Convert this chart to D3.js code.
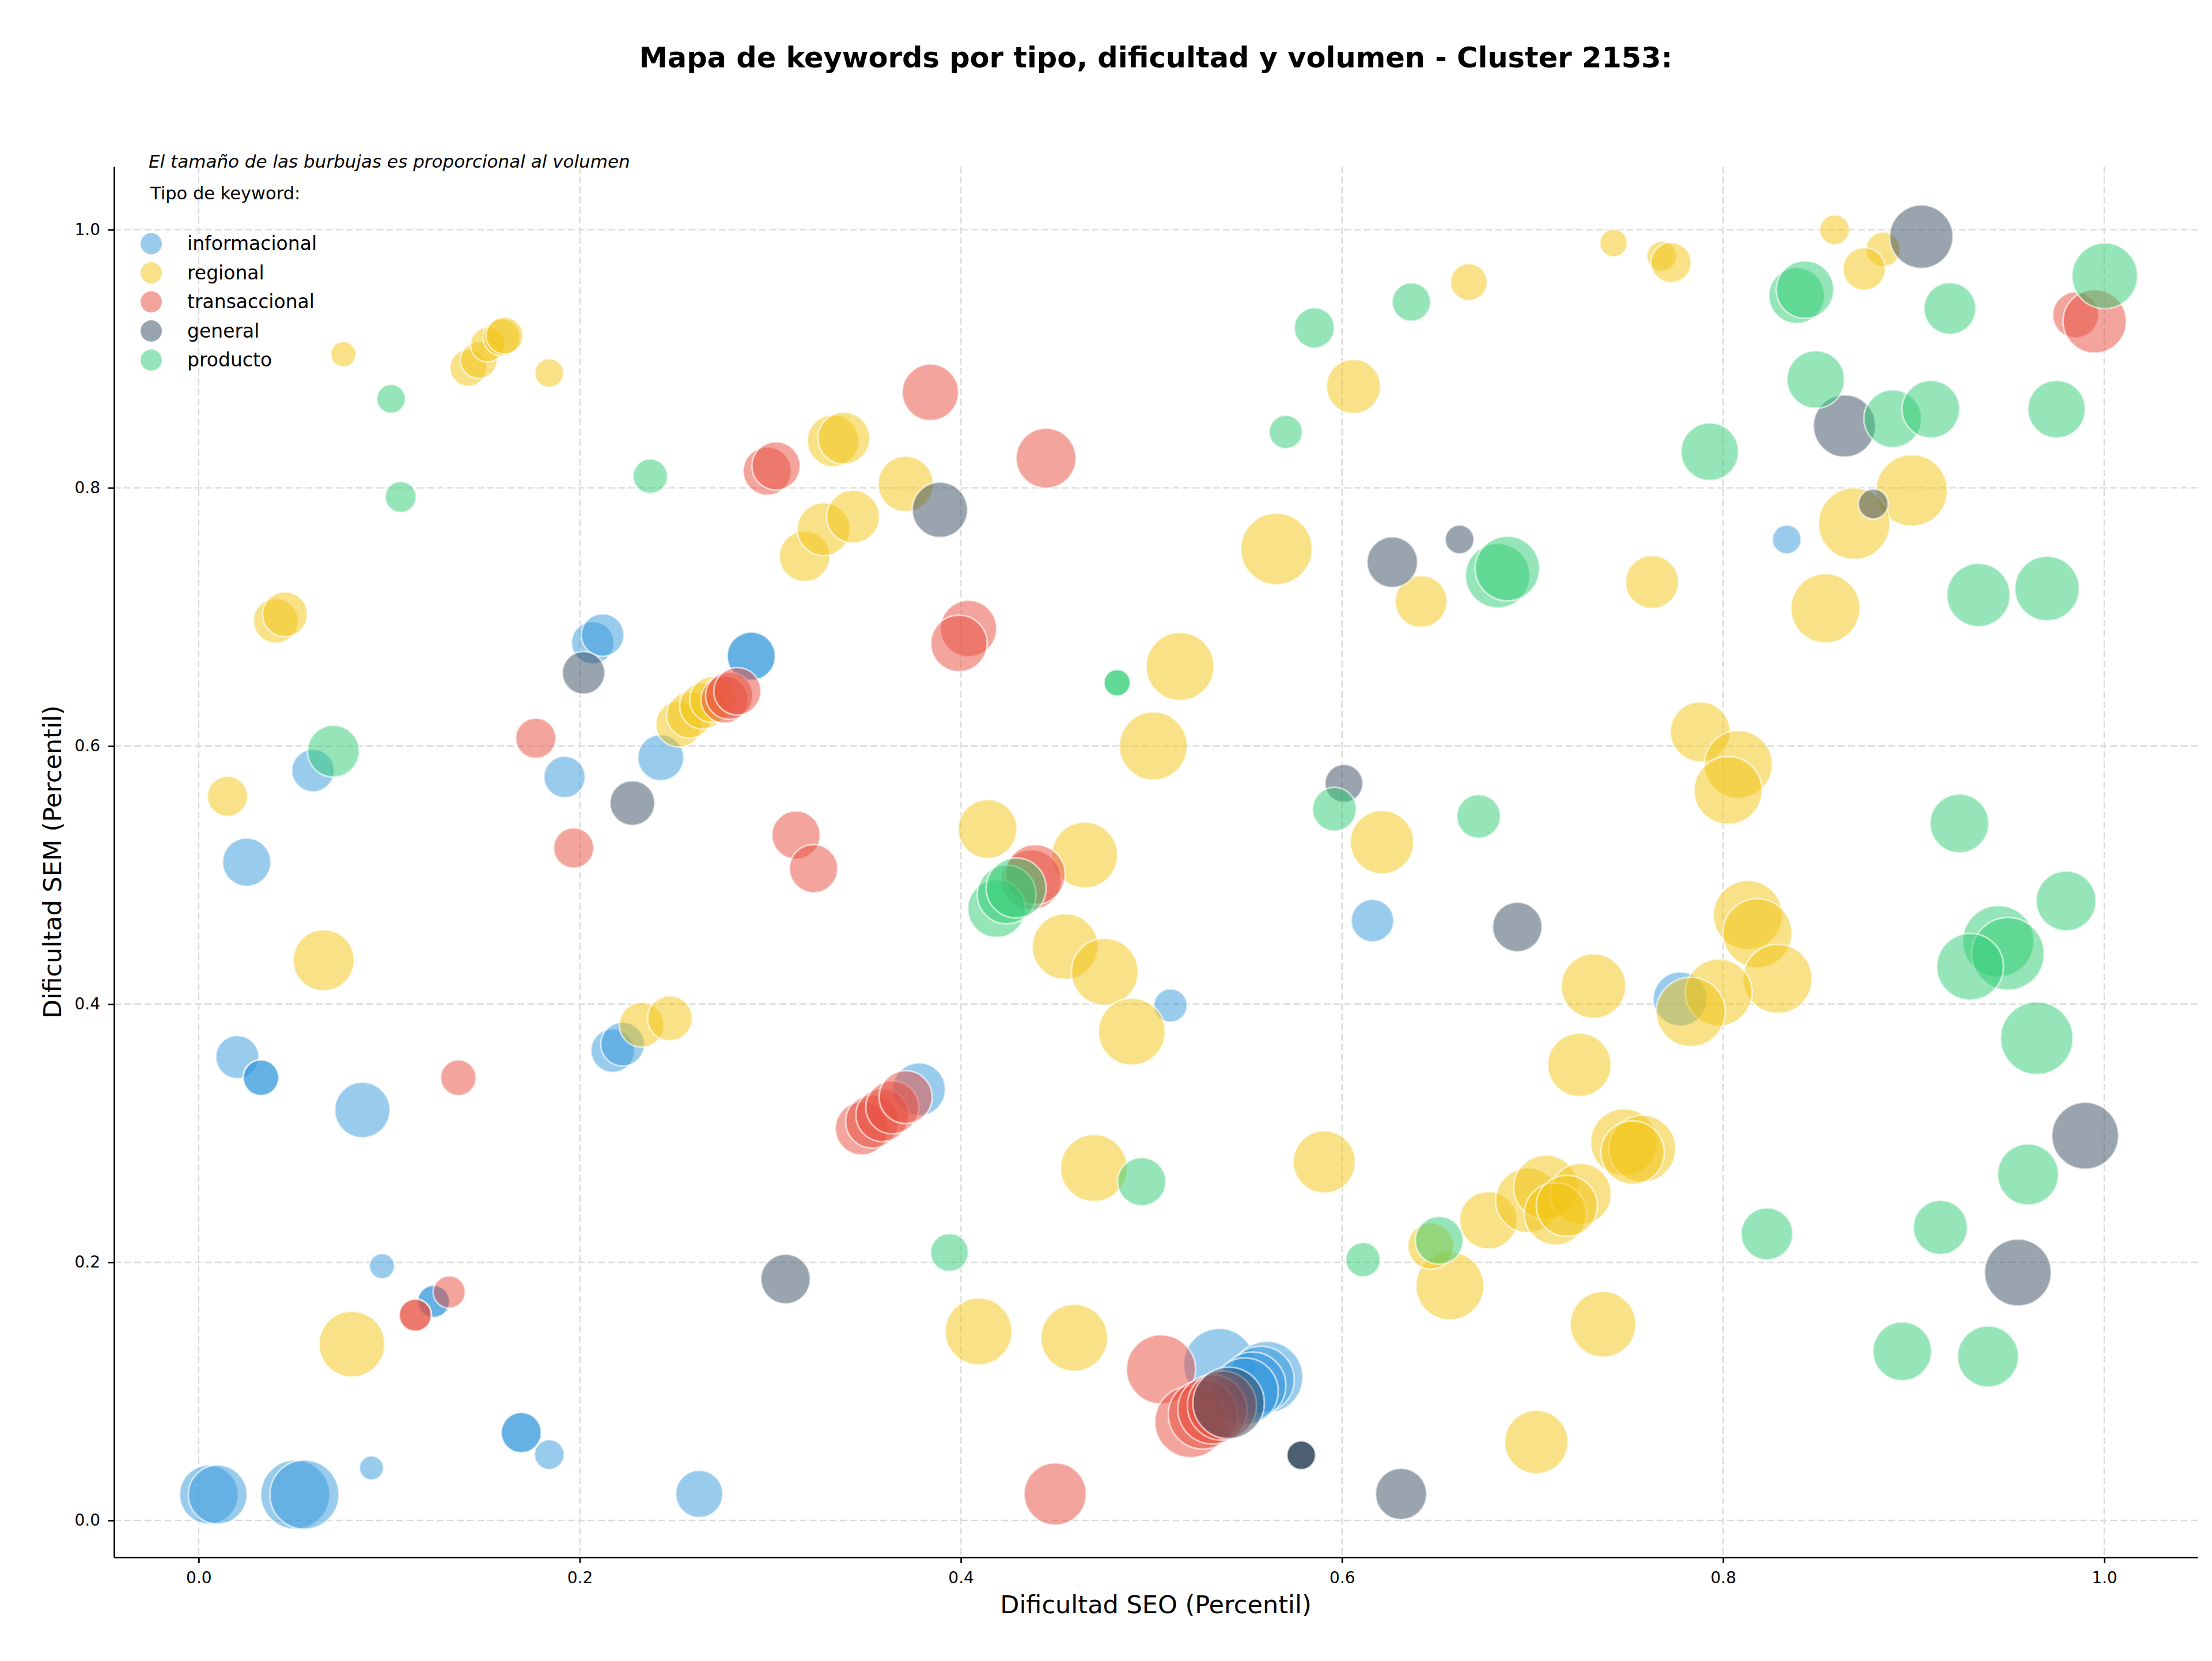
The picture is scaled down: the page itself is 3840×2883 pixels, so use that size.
<!DOCTYPE html>
<html>
<head>
<meta charset="utf-8">
<script src="https://cdn.jsdelivr.net/npm/d3@7"></script>
<style>
  html, body { margin: 0; padding: 0; background: #ffffff; }
  svg { display: block; }
</style>
</head>
<body>
<script>
// ---------------- DATA (x = Dificultad SEO, y = Dificultad SEM, v = volumen) ----------------
const tipos = ["informacional", "regional", "transaccional", "general", "producto"];
const colores = ["#3498db", "#f1c40f", "#e74c3c", "#34495e", "#2ecc71"];
const tickValores = [0.0, 0.2, 0.4, 0.6, 0.8, 1.0];

const informacional = [
  [0.0054,0.020,502],[0.010,0.020,502],[0.0507,0.020,694],[0.0555,0.020,694],[0.0907,0.0406,85],
  [0.184,0.051,130],[0.1693,0.068,236],[0.1693,0.068,236],[0.2627,0.0205,324],[0.0962,0.197,93],
  [0.1233,0.1696,151],[0.1233,0.1696,151],[0.0203,0.359,271],[0.0327,0.343,185],[0.0327,0.343,185],
  [0.0859,0.318,444],[0.2173,0.364,279],[0.2225,0.369,279],[0.378,0.334,408],[0.0252,0.51,340],
  [0.060,0.581,264],[0.192,0.576,250],[0.2425,0.591,309],[0.2068,0.680,264],[0.212,0.686,264],
  [0.290,0.6696,340],[0.290,0.6696,340],[0.51,0.399,162],[0.616,0.4647,264],[0.7775,0.404,426],
  [0.8334,0.760,121],[0.5356,0.121,742],[0.5607,0.111,742],[0.5574,0.109,649],[0.553,0.1045,649],
  [0.549,0.100,649]
];

const regional = [
  [0.0759,0.9036,93],[0.1415,0.893,198],[0.147,0.899,198],[0.1517,0.911,174],[0.159,0.9166,198],
  [0.1605,0.918,198],[0.184,0.889,121],[0.0405,0.697,293],[0.0453,0.702,293],[0.0151,0.561,236],
  [0.0656,0.434,542],[0.0804,0.1366,627],[0.2325,0.384,293],[0.2473,0.389,293],[0.252,0.617,309],
  [0.2576,0.624,309],[0.2645,0.631,309],[0.2697,0.636,309],[0.318,0.747,373],[0.328,0.768,408],
  [0.3434,0.7777,408],[0.333,0.8365,391],[0.3386,0.8385,391],[0.371,0.803,444],[0.414,0.5357,502],
  [0.465,0.5155,627],[0.4547,0.4446,627],[0.4755,0.425,649],[0.4897,0.3786,649],[0.4698,0.273,649],
  [0.4093,0.1464,649],[0.4595,0.1415,649],[0.501,0.600,671],[0.515,0.6616,671],[0.5656,0.7527,742],
  [0.606,0.8786,426],[0.6666,0.9594,198],[0.7425,0.9897,111],[0.7678,0.9795,130],[0.7727,0.9746,236],
  [0.8585,1.0,130],[0.884,0.9848,174],[0.874,0.9696,264],[0.899,0.798,742],[0.8688,0.7723,742],
  [0.8537,0.7067,694],[0.7627,0.727,408],[0.6415,0.712,391],[0.788,0.611,522],[0.808,0.5857,671],
  [0.8026,0.5656,671],[0.621,0.5255,584],[0.813,0.469,694],[0.818,0.455,694],[0.8286,0.4196,694],
  [0.7977,0.409,649],[0.783,0.394,694],[0.732,0.414,605],[0.7246,0.353,584],[0.5907,0.2777,563],
  [0.6566,0.1817,671],[0.6466,0.2125,309],[0.6768,0.2326,482],[0.6975,0.248,605],[0.707,0.258,605],
  [0.7253,0.253,542],[0.712,0.2375,563],[0.718,0.2437,542],[0.748,0.293,649],[0.7576,0.288,649],
  [0.7525,0.285,584],[0.737,0.152,627],[0.702,0.0607,584]
];

const transaccional = [
  [0.1137,0.159,151],[0.1137,0.159,151],[0.1315,0.177,151],[0.1363,0.343,185],[0.1968,0.521,236],
  [0.1769,0.606,236],[0.276,0.636,324],[0.2784,0.639,324],[0.2827,0.6424,324],[0.2984,0.813,340],
  [0.303,0.817,340],[0.384,0.874,463],[0.4447,0.823,522],[0.404,0.691,463],[0.399,0.6795,463],
  [0.3135,0.531,340],[0.3227,0.505,340],[0.437,0.4964,522],[0.439,0.5004,522],[0.348,0.3036,408],
  [0.3534,0.309,408],[0.3588,0.314,408],[0.364,0.320,408],[0.371,0.328,408],[0.4495,0.0205,563],
  [0.505,0.117,694],[0.5205,0.0763,742],[0.527,0.082,694],[0.532,0.086,694],[0.537,0.089,694],
  [0.985,0.934,309],[0.995,0.929,584]
];

const general = [
  [0.202,0.6567,264],[0.2276,0.5558,293],[0.389,0.783,444],[0.308,0.187,357],[0.5405,0.091,742],
  [0.5786,0.0505,121],[0.5786,0.0505,121],[0.5786,0.0505,121],[0.631,0.0205,382],[0.601,0.571,210],
  [0.692,0.4598,357],[0.6264,0.7424,373],[0.6617,0.760,121],[0.8637,0.848,563],[0.8788,0.7875,130],
  [0.904,0.9946,584],[0.990,0.298,649],[0.9547,0.192,649]
];

const producto = [
  [0.101,0.869,121],[0.106,0.793,141],[0.237,0.809,174],[0.0707,0.596,391],[0.482,0.649,102],
  [0.482,0.649,102],[0.394,0.2076,210],[0.4949,0.2625,340],[0.4187,0.474,482],[0.424,0.485,502],
  [0.429,0.49,522],[0.5855,0.924,236],[0.6364,0.944,216],[0.5705,0.8433,162],[0.8386,0.949,453],
  [0.843,0.9536,482],[0.919,0.939,391],[1.0003,0.9643,627],[0.8486,0.884,482],[0.889,0.8536,482],
  [0.909,0.861,482],[0.975,0.861,482],[0.793,0.828,482],[0.6817,0.732,605],[0.6868,0.7375,605],
  [0.934,0.717,584],[0.970,0.722,605],[0.596,0.551,279],[0.6717,0.5455,279],[0.924,0.540,502],
  [0.980,0.48,522],[0.9444,0.4487,742],[0.9495,0.439,766],[0.9296,0.429,649],[0.9646,0.3736,766],
  [0.960,0.268,542],[0.914,0.227,426],[0.823,0.222,391],[0.894,0.131,502],[0.939,0.127,542],
  [0.611,0.202,174],[0.651,0.217,333]
];

const series = [informacional, regional, transaccional, general, producto];

const titulo = "Mapa de keywords por tipo, dificultad y volumen - Cluster 2153:";
const nota = "El tamaño de las burbujas es proporcional al volumen";
const tituloLeyenda = "Tipo de keyword:";
const etiquetaX = "Dificultad SEO (Percentil)";
const etiquetaY = "Dificultad SEM (Percentil)";

// ---------------- LAYOUT ----------------
const W = 3840, H = 2883;
const M = { left: 198, right: 3815, top: 289, bottom: 2703 };
const FONT = "DejaVu Sans, Liberation Sans, sans-serif";

const svg = d3.select("body").append("svg")
  .attr("width", W).attr("height", H)
  .attr("viewBox", `0 0 ${W} ${H}`);

svg.append("rect").attr("width", W).attr("height", H).attr("fill", "#ffffff");

const x = d3.scaleLinear().domain([-0.0444, 1.049]).range([M.left, M.right]);
const y = d3.scaleLinear().domain([-0.0286, 1.049]).range([M.bottom, M.top]);
const r = d3.scaleSqrt().domain([0, 1000]).range([0, 72]);

// grid
const grid = svg.append("g").attr("class", "grid");
grid.selectAll("line.gx").data(tickValores).join("line")
  .attr("x1", d => x(d)).attr("x2", d => x(d))
  .attr("y1", M.top).attr("y2", M.bottom)
  .attr("stroke", "#dcdcdc").attr("stroke-width", 2.5)
  .attr("stroke-dasharray", "12,5.5");
grid.selectAll("line.gy").data(tickValores).join("line")
  .attr("x1", M.left).attr("x2", M.right)
  .attr("y1", d => y(d)).attr("y2", d => y(d))
  .attr("stroke", "#dcdcdc").attr("stroke-width", 2.5)
  .attr("stroke-dasharray", "12,5.5");

// bubbles
const plot = svg.append("g").attr("class", "bubbles");
series.forEach((pts, i) => {
  plot.append("g").selectAll("circle").data(pts).join("circle")
    .attr("cx", d => x(d[0]))
    .attr("cy", d => y(d[1]))
    .attr("r", d => r(d[2]))
    .attr("fill", colores[i]).attr("fill-opacity", 0.5)
    .attr("stroke", "#ffffff").attr("stroke-opacity", 0.6).attr("stroke-width", 3);
});

// axes
const fmt = d3.format(".1f");
const xAxis = svg.append("g").attr("transform", `translate(0,${M.bottom})`)
  .call(d3.axisBottom(x).tickValues(tickValores).tickFormat(fmt).tickSize(10).tickSizeOuter(0).tickPadding(15));
const yAxis = svg.append("g").attr("transform", `translate(${M.left},0)`)
  .call(d3.axisLeft(y).tickValues(tickValores).tickFormat(fmt).tickSize(10).tickSizeOuter(0).tickPadding(14));
[xAxis, yAxis].forEach(a => {
  a.select(".domain").attr("stroke", "#000").attr("stroke-width", 2.7);
  a.selectAll(".tick line").attr("stroke", "#000").attr("stroke-width", 2.7);
  a.selectAll(".tick text").attr("font-family", FONT).attr("font-size", 28).attr("fill", "#000");
});

// title
svg.append("text")
  .attr("x", (M.left + M.right) / 2).attr("y", 117)
  .attr("text-anchor", "middle")
  .attr("font-family", FONT).attr("font-weight", "bold").attr("font-size", 49.5)
  .attr("fill", "#000").text(titulo);

// axis labels
svg.append("text")
  .attr("x", (M.left + M.right) / 2).attr("y", 2800)
  .attr("text-anchor", "middle")
  .attr("font-family", FONT).attr("font-size", 43).attr("fill", "#000")
  .text(etiquetaX);
svg.append("text")
  .attr("transform", `translate(106,${(M.top + M.bottom) / 2}) rotate(-90)`)
  .attr("text-anchor", "middle")
  .attr("font-family", FONT).attr("font-size", 43).attr("fill", "#000")
  .text(etiquetaY);

// note + legend
svg.append("text")
  .attr("x", 258).attr("y", 291)
  .attr("font-family", FONT).attr("font-style", "italic").attr("font-size", 31)
  .attr("fill", "#000").text(nota);
svg.append("text")
  .attr("x", 261).attr("y", 346)
  .attr("font-family", FONT).attr("font-size", 30.5)
  .attr("fill", "#000").text(tituloLeyenda);

const leg = svg.append("g").attr("class", "legend");
const legY = d3.scalePoint().domain(tipos).range([423, 625]);
leg.selectAll("circle").data(tipos).join("circle")
  .attr("cx", 262.5).attr("cy", d => legY(d)).attr("r", 18.5)
  .attr("fill", (d, i) => colores[i]).attr("fill-opacity", 0.5);
leg.selectAll("text").data(tipos).join("text")
  .attr("x", 325).attr("y", d => legY(d) + 11)
  .attr("font-family", FONT).attr("font-size", 33).attr("fill", "#000")
  .text(d => d);
</script>
</body>
</html>
